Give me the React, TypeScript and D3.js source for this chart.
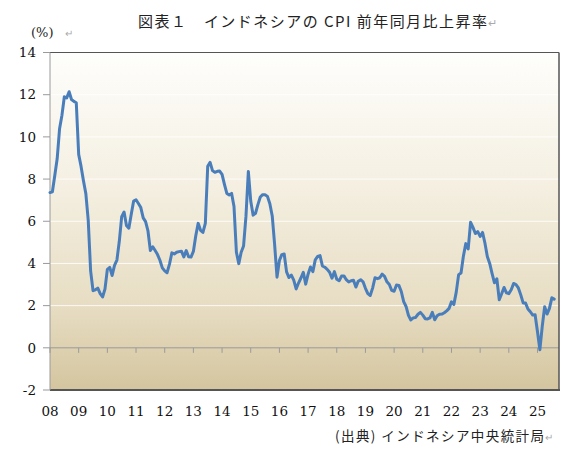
import * as d3 from 'd3';

// Indonesia CPI, year-on-year %, monthly (Jan..Dec)
const startYear = 2008;
const cpi2008 = [7.36, 7.40, 8.17, 8.96, 10.38, 11.03, 11.90, 11.85, 12.14, 11.77, 11.68, 11.62];
const cpi2009 = [9.17, 8.60, 7.92, 7.31, 6.04, 3.65, 2.71, 2.75, 2.83, 2.57, 2.41, 2.78];
const cpi2010 = [3.72, 3.81, 3.43, 3.91, 4.16, 5.05, 6.22, 6.44, 5.80, 5.67, 6.33, 6.96];
const cpi2011 = [7.02, 6.84, 6.65, 6.16, 5.98, 5.54, 4.61, 4.79, 4.61, 4.42, 4.15, 3.79];
const cpi2012 = [3.65, 3.56, 3.97, 4.50, 4.45, 4.53, 4.56, 4.58, 4.31, 4.61, 4.32, 4.30];
const cpi2013 = [4.57, 5.31, 5.90, 5.57, 5.47, 5.90, 8.61, 8.79, 8.40, 8.32, 8.37, 8.38];
const cpi2014 = [8.22, 7.75, 7.32, 7.25, 7.32, 6.70, 4.53, 3.99, 4.53, 4.83, 6.23, 8.36];
const cpi2015 = [6.96, 6.29, 6.38, 6.79, 7.15, 7.26, 7.26, 7.18, 6.83, 6.25, 4.89, 3.35];
const cpi2016 = [4.14, 4.42, 4.45, 3.60, 3.33, 3.45, 3.21, 2.79, 3.07, 3.31, 3.58, 3.02];
const cpi2017 = [3.49, 3.83, 3.61, 4.17, 4.33, 4.37, 3.88, 3.82, 3.72, 3.58, 3.30, 3.61];
const cpi2018 = [3.25, 3.18, 3.40, 3.41, 3.23, 3.12, 3.18, 3.20, 2.88, 3.16, 3.23, 3.13];
const cpi2019 = [2.82, 2.57, 2.48, 2.83, 3.32, 3.28, 3.32, 3.49, 3.39, 3.13, 3.00, 2.72];
const cpi2020 = [2.68, 2.98, 2.96, 2.67, 2.19, 1.96, 1.54, 1.32, 1.42, 1.44, 1.59, 1.68];
const cpi2021 = [1.55, 1.38, 1.37, 1.42, 1.68, 1.33, 1.52, 1.59, 1.60, 1.66, 1.75, 1.87];
const cpi2022 = [2.18, 2.06, 2.64, 3.47, 3.55, 4.35, 4.94, 4.69, 5.95, 5.71, 5.42, 5.51];
const cpi2023 = [5.28, 5.47, 4.97, 4.33, 4.00, 3.52, 3.08, 3.27, 2.28, 2.56, 2.86, 2.61];
const cpi2024 = [2.57, 2.75, 3.05, 3.00, 2.84, 2.51, 2.13, 2.12, 1.84, 1.71, 1.55, 1.57];
const cpi2025 = [0.76, -0.09, 1.03, 1.95, 1.60, 1.87, 2.37, 2.31];

const yearLabels = ['08', '09', '10', '11', '12', '13', '14', '15', '16', '17', '18', '19', '20', '21', '22', '23', '24', '25'];
const yTicks = [-2, 0, 2, 4, 6, 8, 10, 12, 14];

const series = [
  cpi2008, cpi2009, cpi2010, cpi2011, cpi2012, cpi2013, cpi2014, cpi2015, cpi2016,
  cpi2017, cpi2018, cpi2019, cpi2020, cpi2021, cpi2022, cpi2023, cpi2024, cpi2025,
].flatMap((arr, yi) => arr.map((v, m) => ({ t: yi * 12 + m, v, year: startYear + yi })));

const W = 578;
const H = 465;
const plot = { left: 50, right: 559, top: 52.5, bottom: 390 };
const numFont = '"DejaVu Serif", "Liberation Serif", serif';
const jpFont = '"Noto Sans CJK JP", sans-serif';

export default function App() {
  const x = d3.scaleLinear().domain([0, 213]).range([plot.left, plot.right]);
  const y = d3.scaleLinear().domain([-2, 14]).range([plot.bottom, plot.top]);

  const line = d3.line<{ t: number; v: number }>()
    .x(d => x(d.t))
    .y(d => y(d.v));

  const y0 = y(0);

  return (
    <svg width={W} height={H} style={{ position: 'absolute', left: 0, top: 0, background: '#fff' }}>
      <defs>
        <linearGradient id="bg" x1="0" y1="0" x2="0" y2="1">
          <stop offset="0%" stopColor="#fefefc" />
          <stop offset="40%" stopColor="#f4efe1" />
          <stop offset="75%" stopColor="#e7ddc3" />
          <stop offset="100%" stopColor="#d4c59f" />
        </linearGradient>
      </defs>

      {/* title */}
      <text x={138} y={27} fontFamily={jpFont} fontSize={15} fill="#222"
        textLength={349} lengthAdjust="spacing">
        図表１　インドネシアの CPI 前年同月比上昇率
      </text>
      <text x={488} y={27} fontFamily={jpFont} fontSize={11} fill="#aaa">↵</text>

      {/* unit */}
      <text x={31} y={37} fontFamily={numFont} fontSize={13} fill="#222">(%)</text>
      <text x={65} y={37} fontFamily={jpFont} fontSize={10} fill="#aaa">↵</text>

      {/* plot area */}
      <rect x={plot.left} y={plot.top} width={plot.right - plot.left} height={plot.bottom - plot.top}
        fill="url(#bg)" />

      {/* gridlines */}
      {yTicks.filter(t => t > 0 && t < 14).map(t => (
        <line key={`g${t}`} x1={plot.left} x2={plot.right} y1={y(t)} y2={y(t)}
          stroke="#ffffff" strokeOpacity={0.85} strokeWidth={1} />
      ))}

      {/* x axis at zero */}
      <line x1={plot.left} x2={plot.right} y1={y0} y2={y0} stroke="#9a9a9a" strokeWidth={1} />
      {yearLabels.map((_, i) => (
        <line key={`xt${i}`} x1={x(i * 12)} x2={x(i * 12)} y1={y0} y2={y0 + 5}
          stroke="#9a9a9a" strokeWidth={1} />
      ))}

      {/* border */}
      <line x1={plot.left} x2={plot.right} y1={plot.top} y2={plot.top} stroke="#555" strokeWidth={1.2} />
      <line x1={plot.right} x2={plot.right} y1={plot.top} y2={plot.bottom + 1} stroke="#555" strokeWidth={1.5} />
      <line x1={plot.left} x2={plot.right + 1} y1={plot.bottom} y2={plot.bottom} stroke="#555" strokeWidth={2} />
      <line x1={plot.left} x2={plot.left} y1={plot.top} y2={plot.bottom} stroke="#9a9a9a" strokeWidth={1} />

      {/* y axis ticks and labels */}
      {yTicks.map(t => (
        <g key={`yt${t}`}>
          <line x1={plot.left - 7} x2={plot.left} y1={y(t)} y2={y(t)} stroke="#9a9a9a" strokeWidth={1} />
          <text x={36} y={y(t)} dy="0.35em" textAnchor="end" fontFamily={numFont} fontSize={13.5} fill="#111">
            {t}
          </text>
        </g>
      ))}

      {/* x labels */}
      {yearLabels.map((lab, i) => (
        <text key={`xl${i}`} x={x(i * 12)} y={416} textAnchor="middle" fontFamily={numFont} fontSize={13.5} fill="#111">
          {lab}
        </text>
      ))}

      {/* series */}
      <path d={line(series) || ''} fill="none" stroke="#4a7ebb" strokeWidth={3} strokeLinejoin="round" strokeLinecap="round" />

      {/* source */}
      <text x={335} y={441} fontFamily={jpFont} fontSize={13.5} fill="#222" textLength={209} lengthAdjust="spacing">
        (出典) インドネシア中央統計局
      </text>
      <text x={545} y={441} fontFamily={jpFont} fontSize={10} fill="#aaa">↵</text>
    </svg>
  );
}
